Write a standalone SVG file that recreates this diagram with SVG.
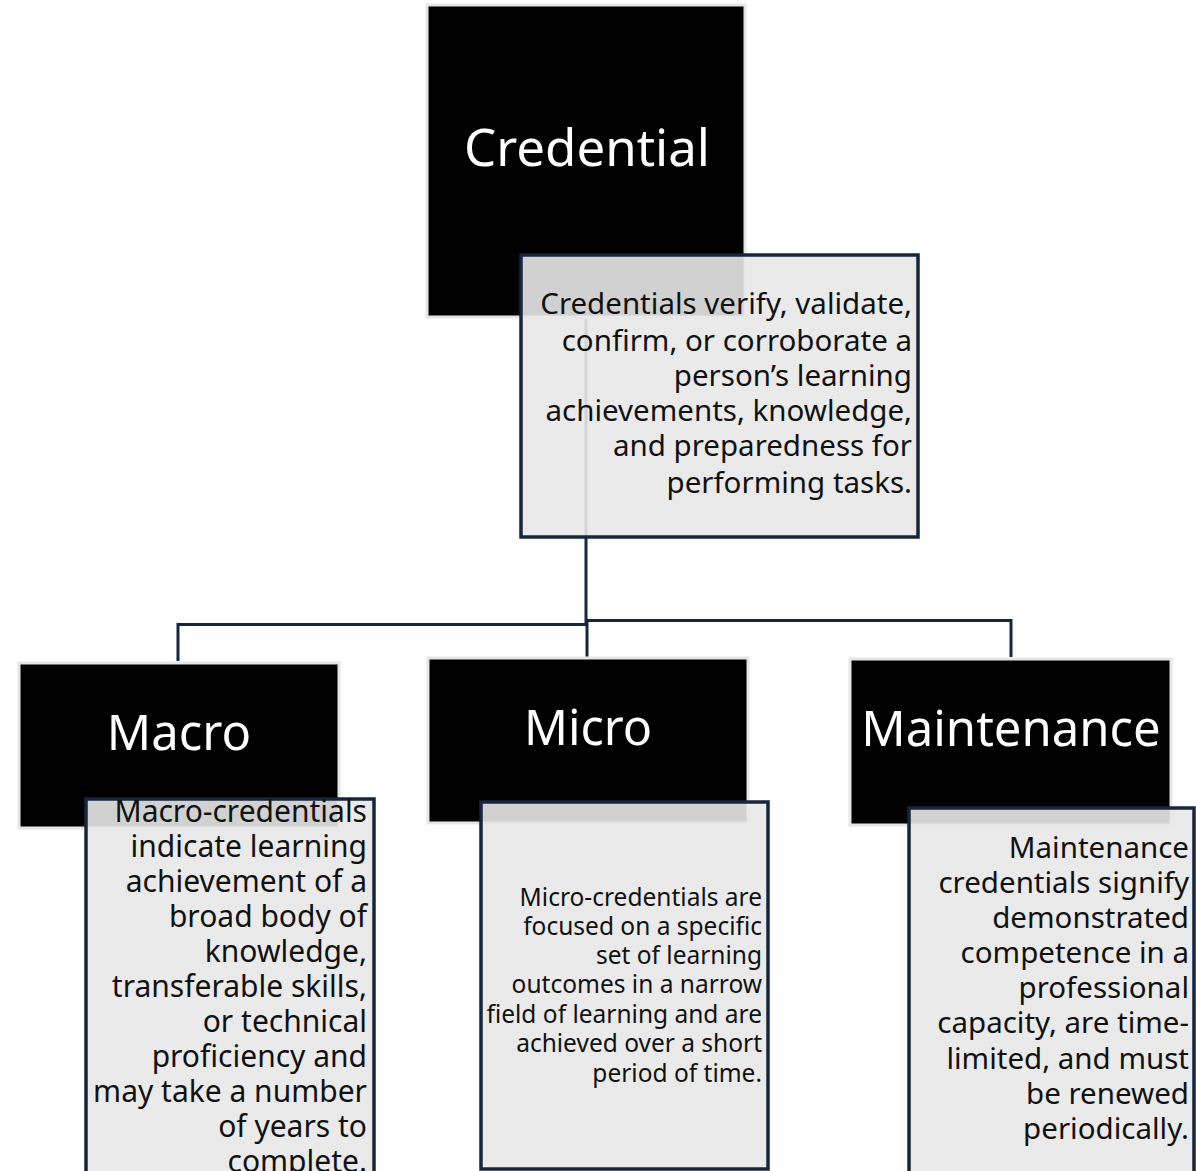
<svg xmlns="http://www.w3.org/2000/svg" width="1196" height="1171" viewBox="0 0 1196 1171">
  <style>
    .head { fill: #000000; stroke: #e6e6e6; stroke-width: 3; }
    .desc { fill: #e8e8e8; fill-opacity: 0.9; stroke: #14273f; stroke-width: 3.5; }
    .title { font-family: "Noto Sans", "Liberation Sans", sans-serif; fill: #ffffff; text-anchor: middle; }
    .body { font-family: "Noto Sans", "Liberation Sans", sans-serif; fill: #111111; text-anchor: end; }
    .link { fill: none; stroke: #14273f; stroke-width: 3; }
  </style>

  <!-- tree connectors, drawn beneath the boxes -->
  <g id="connectors">
    <path class="link" d="M586,319 V623"/>
    <path class="link" d="M178,661 V624.5 H587"/>
    <path class="link" d="M585,620.5 H1011 V657"/>
    <path class="link" d="M587,620 V657"/>
  </g>

  <!-- root: Credential -->
  <g id="credential">
    <rect class="head" x="427" y="5" width="318" height="312"/>
    <text class="title" x="587" y="166" font-size="51">Credential</text>
  </g>
  <g id="credential-desc">
    <rect class="desc" x="521" y="255" width="397" height="282"/>
    <text class="body" font-size="29.5" x="912" y="314">Credentials verify, validate,</text>
    <text class="body" font-size="29.5" x="912" y="351">confirm, or corroborate a</text>
    <text class="body" font-size="29.5" x="912" y="386">person’s learning</text>
    <text class="body" font-size="29.5" x="912" y="421">achievements, knowledge,</text>
    <text class="body" font-size="29.5" x="912" y="456">and preparedness for</text>
    <text class="body" font-size="29.5" x="912" y="493">performing tasks.</text>
  </g>

  <!-- child: Macro -->
  <g id="macro">
    <rect class="head" x="19" y="663" width="320" height="165"/>
    <text class="title" x="179" y="750" font-size="49">Macro</text>
  </g>
  <g id="macro-desc">
    <rect class="desc" x="86" y="799" width="288" height="400"/>
    <text class="body" font-size="30" x="367" y="822">Macro-credentials</text>
    <text class="body" font-size="30" x="367" y="857">indicate learning</text>
    <text class="body" font-size="30" x="367" y="892">achievement of a</text>
    <text class="body" font-size="30" x="367" y="927">broad body of</text>
    <text class="body" font-size="30" x="367" y="962">knowledge,</text>
    <text class="body" font-size="30" x="367" y="997">transferable skills,</text>
    <text class="body" font-size="30" x="367" y="1032">or technical</text>
    <text class="body" font-size="30" x="367" y="1067">proficiency and</text>
    <text class="body" font-size="30" x="367" y="1102">may take a number</text>
    <text class="body" font-size="30" x="367" y="1137">of years to</text>
    <text class="body" font-size="30" x="367" y="1172">complete.</text>
  </g>

  <!-- child: Micro -->
  <g id="micro">
    <rect class="head" x="428" y="658" width="320" height="165"/>
    <text class="title" x="588" y="745" font-size="48.5">Micro</text>
  </g>
  <g id="micro-desc">
    <rect class="desc" x="481" y="802" width="287" height="367"/>
    <text class="body" font-size="24.5" x="762" y="906">Micro-credentials are</text>
    <text class="body" font-size="24.5" x="762" y="935">focused on a specific</text>
    <text class="body" font-size="24.5" x="762" y="964">set of learning</text>
    <text class="body" font-size="24.5" x="762" y="993">outcomes in a narrow</text>
    <text class="body" font-size="24.5" x="762" y="1023">field of learning and are</text>
    <text class="body" font-size="24.5" x="762" y="1052">achieved over a short</text>
    <text class="body" font-size="24.5" x="762" y="1082">period of time.</text>
  </g>

  <!-- child: Maintenance -->
  <g id="maintenance">
    <rect class="head" x="850" y="659" width="321" height="166"/>
    <text class="title" x="1011" y="746" font-size="49">Maintenance</text>
  </g>
  <g id="maintenance-desc">
    <rect class="desc" x="909" y="808" width="285" height="400"/>
    <text class="body" font-size="29.5" x="1189" y="858">Maintenance</text>
    <text class="body" font-size="29.5" x="1189" y="893">credentials signify</text>
    <text class="body" font-size="29.5" x="1189" y="928">demonstrated</text>
    <text class="body" font-size="29.5" x="1189" y="963">competence in a</text>
    <text class="body" font-size="29.5" x="1189" y="998">professional</text>
    <text class="body" font-size="29.5" x="1189" y="1033">capacity, are time-</text>
    <text class="body" font-size="29.5" x="1189" y="1069">limited, and must</text>
    <text class="body" font-size="29.5" x="1189" y="1104">be renewed</text>
    <text class="body" font-size="29.5" x="1189" y="1139">periodically.</text>
  </g>
</svg>
